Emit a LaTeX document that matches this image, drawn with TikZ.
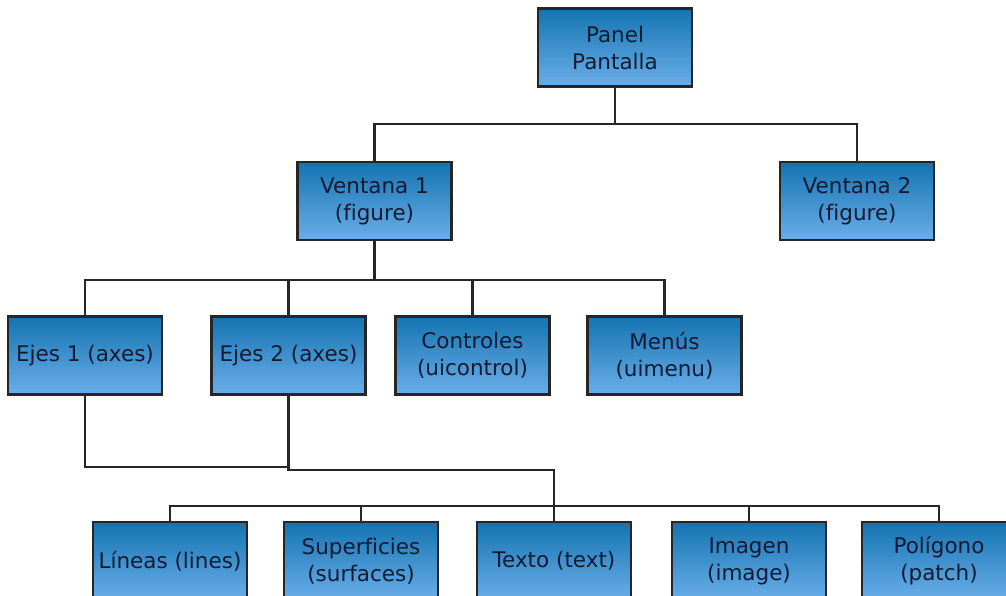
\documentclass[tikz,border=0pt]{standalone}
\usepackage{fontspec}
\setmainfont[Ligatures=NoCommon]{DejaVu Sans}
\definecolor{boxtop}{RGB}{20,116,176}
\definecolor{boxbot}{RGB}{106,174,234}
\definecolor{ink}{RGB}{20,26,50}
\begin{document}
\begin{tikzpicture}[x=1pt,y=-1pt,
  objbox/.style={draw=black!85, line width=2.2pt, rectangle,
    top color=boxtop, bottom color=boxbot,
    minimum width=154pt, minimum height=78pt, inner sep=0pt,
    align=center, text=ink, font=\fontsize{21.5}{27}\selectfont},
  link/.style={draw=black!85, line width=2.2pt}]
\useasboundingbox (0,0) rectangle (1006,596);
\clip (0,0) rectangle (1006,596);

% level 0
\node[objbox] (P) at (615,47.5) {Panel\\Pantalla};
% level 1
\node[objbox] (V1) at (374.5,201) {Ventana 1\\(figure)};
\node[objbox] (V2) at (857,201) {Ventana 2\\(figure)};
% level 2
\node[objbox] (E1) at (85,355.5) {Ejes 1 (axes)};
\node[objbox] (E2) at (288.5,355.5) {Ejes 2 (axes)};
\node[objbox] (C) at (472.5,355.5) {Controles\\(uicontrol)};
\node[objbox] (M) at (664.5,355.5) {Menús\\(uimenu)};
% level 3
\node[objbox] (L) at (170,561) {Líneas (lines)};
\node[objbox] (S) at (361,561) {Superficies\\(surfaces)};
\node[objbox] (T) at (554,561) {Texto (text)};
\node[objbox] (I) at (749,561) {Imagen\\(image)};
\node[objbox] (G) at (939,561) {Polígono\\(patch)};

% junction points of the buses
\coordinate (j0) at (615,124);
\coordinate (j1) at (374.5,280);
\coordinate (j2) at (288.5,467);
\coordinate (j3) at (554,470);
\coordinate (j4) at (554,506);

% panel -> windows
\draw[link] (P.south) -- (j0);
\draw[link] (V1.north) |- (j0) -| (V2.north);
% window 1 -> axes, controls, menus
\draw[link] (V1.south) -- (j1);
\draw[link] (E1.north) |- (j1) -| (M.north);
\draw[link] (E2.north) -- (E2.north |- j1);
\draw[link] (C.north) -- (C.north |- j1);
% axes -> graphics objects
\draw[link] (E1.south) |- (j2);
\draw[link] (E2.south) |- (j3) -- (T.north);
\draw[link] (L.north) |- (j4) -| (G.north);
\draw[link] (S.north) -- (S.north |- j4);
\draw[link] (I.north) -- (I.north |- j4);
\end{tikzpicture}
\end{document}
